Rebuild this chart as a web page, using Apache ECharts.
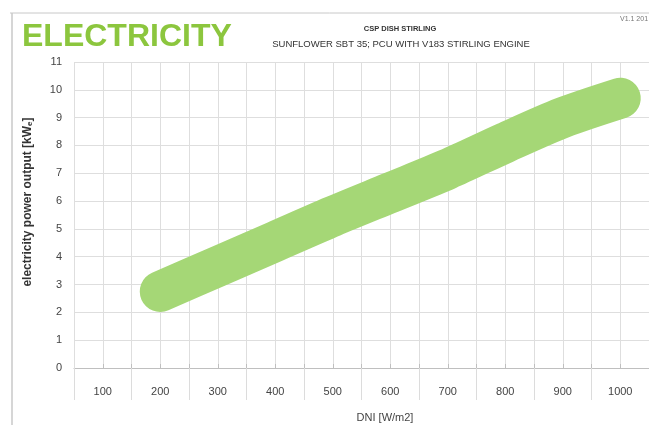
<!DOCTYPE html>
<html>
<head>
<meta charset="utf-8">
<script src="https://cdn.jsdelivr.net/npm/echarts@6/dist/echarts.min.js"></script>
<style>html,body{margin:0;padding:0;background:#fff;}#c{width:649px;height:425px;}</style>
</head>
<body>
<div id="c"></div>
<script>
var dni = [200, 300, 400, 500, 600, 700, 800, 900, 1000];
var power = [2.75, 3.65, 4.55, 5.45, 6.3, 7.15, 8.1, 9.0, 9.7];
var xTickLabels = [100, 200, 300, 400, 500, 600, 700, 800, 900, 1000];
var yTickLabels = [0, 1, 2, 3, 4, 5, 6, 7, 8, 9, 10, 11];

var chart = echarts.init(document.getElementById('c'));
var font = 'Liberation Sans';
chart.setOption({
  animation: false,
  backgroundColor: '#fff',
  textStyle: {fontFamily: font},
  grid: {left: 74, right: 0, top: 62, bottom: 57, containLabel: false},
  xAxis: [{
    type: 'value', min: 50, max: 1050, interval: 50,
    axisLine: {show: true, lineStyle: {color: '#bfbfbf', width: 1}},
    axisTick: {show: true, inside: true, length: 4, lineStyle: {color: '#bfbfbf'}},
    splitLine: {show: true, lineStyle: {color: '#dedede', width: 1}},
    axisLabel: {
      margin: 18, color: '#444', fontSize: 11, fontFamily: font,
      formatter: function (v) { return xTickLabels.indexOf(v) >= 0 ? String(v) : ''; },
      showMinLabel: false, showMaxLabel: false
    }
  }, {
    type: 'value', min: 50, max: 1050, interval: 100, position: 'bottom',
    axisLine: {show: false},
    axisTick: {show: true, length: 32, lineStyle: {color: '#dcdcdc'}},
    splitLine: {show: false},
    axisLabel: {show: false}
  }],
  yAxis: {
    type: 'value', min: 0, max: 11, interval: 1,
    axisLine: {show: false},
    axisTick: {show: false},
    splitLine: {show: true, lineStyle: {color: '#dedede', width: 1}},
    axisLabel: {
      margin: 12, color: '#444', fontSize: 11, fontFamily: font,
      formatter: function (v) { return yTickLabels.indexOf(v) >= 0 ? String(v) : ''; }
    },
    name: 'electricity power output [kW{s|e}]',
    nameLocation: 'middle', nameGap: 40, nameRotate: 90,
    nameTextStyle: {
      color: '#333', fontSize: 12, fontWeight: 'bold', fontFamily: font,
      padding: [0, 0, 0, 26],
      rich: {s: {fontSize: 8, fontWeight: 'bold', color: '#333', verticalAlign: 'bottom', padding: [5, 0, 0, 0]}}
    }
  },
  series: [{
    type: 'line',
    data: dni.map(function (d, i) { return [d, power[i]]; }),
    smooth: 0.3,
    symbol: 'none',
    lineStyle: {color: '#a5d776', width: 41, cap: 'round', join: 'round'}
  }],
  graphic: [
    {type: 'line', shape: {x1: 10, y1: 13, x2: 649, y2: 13}, style: {stroke: '#c8c8c8', lineWidth: 1}},
    {type: 'line', shape: {x1: 12, y1: 13, x2: 12, y2: 425}, style: {stroke: '#c8c8c8', lineWidth: 1.5}},
    {type: 'text', left: 22, top: 21, style: {text: 'ELECTRICITY', fill: '#8cc63e', font: 'bold 32px "Liberation Sans"'}},
    {type: 'text', x: 400, y: 29, style: {text: 'CSP DISH STIRLING', fill: '#333', font: 'bold 7.5px "Liberation Sans"', textAlign: 'center', textVerticalAlign: 'middle'}},
    {type: 'text', x: 401, y: 44, style: {text: 'SUNFLOWER SBT 35; PCU WITH V183 STIRLING ENGINE', fill: '#333', font: '9.5px "Liberation Sans"', textAlign: 'center', textVerticalAlign: 'middle'}},
    {type: 'text', x: 620, y: 19, style: {text: 'V1.1 201', fill: '#777', font: '7px "Liberation Sans"', textAlign: 'left', textVerticalAlign: 'middle'}},
    {type: 'text', x: 385, y: 418, style: {text: 'DNI [W/m2]', fill: '#444', font: '11px "Liberation Sans"', textAlign: 'center', textVerticalAlign: 'middle'}}
  ]
});
</script>
</body>
</html>
